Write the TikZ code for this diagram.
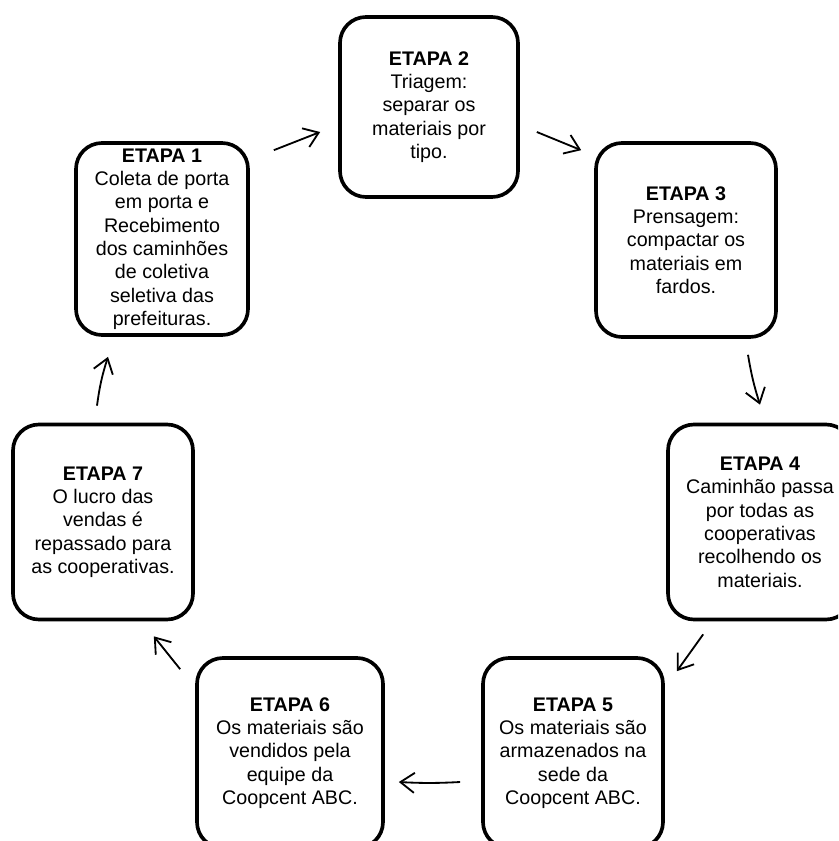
\documentclass[tikz,border=0pt]{standalone}
\usepackage{fontspec}
\setmainfont{Liberation Sans}
\usetikzlibrary{arrows.meta}

\begin{document}
\begin{tikzpicture}[
    etapa/.style={rectangle, draw, line width=2.6pt, rounded corners=0.65cm, align=center, inner sep=0pt, font=\fontsize{14}{16.6}\selectfont},
    arrow/.style={-{Straight Barb[length=0.35cm, width=0.5cm]}, line width=1.3pt}
]
\useasboundingbox (0,0) rectangle (20.95,-21.025);
\clip (0,0) rectangle (20.95,-21.025);

\node[etapa, minimum width=4.3cm, minimum height=4.8cm] (etapa1) at (4.05,-5.975) {\textbf{ETAPA 1}\\Coleta de porta\\em porta e\\Recebimento\\dos caminhões\\de coletiva\\seletiva das\\prefeituras.};
\node[etapa, minimum width=4.45cm, minimum height=4.5cm] (etapa2) at (10.725,-2.675) {\textbf{ETAPA 2}\\Triagem:\\separar os\\materiais por\\tipo.};
\node[etapa, minimum width=4.5cm, minimum height=4.85cm] (etapa3) at (17.15,-6.0) {\textbf{ETAPA 3}\\Prensagem:\\compactar os\\materiais em\\fardos.};
\node[etapa, minimum width=4.6cm, minimum height=4.875cm] (etapa4) at (19.0,-13.05) {\textbf{ETAPA 4}\\Caminhão passa\\por todas as\\cooperativas\\recolhendo os\\materiais.};
\node[etapa, minimum width=4.5cm, minimum height=4.75cm] (etapa5) at (14.325,-18.825) {\textbf{ETAPA 5}\\Os materiais são\\armazenados na\\sede da\\Coopcent ABC.};
\node[etapa, minimum width=4.65cm, minimum height=4.75cm] (etapa6) at (7.25,-18.825) {\textbf{ETAPA 6}\\Os materiais são\\vendidos pela\\equipe da\\Coopcent ABC.};
\node[etapa, minimum width=4.5cm, minimum height=4.875cm] (etapa7) at (2.575,-13.05) {\textbf{ETAPA 7}\\O lucro das\\vendas é\\repassado para\\as cooperativas.};

\draw[arrow] ([shift={(0.6,-0.225)}]etapa1.north east) -- ([shift={(-0.45,-0.625)}]etapa2.west);
\draw[arrow] ([shift={(0.425,-0.625)}]etapa2.east) -- ([shift={(-0.325,-0.225)}]etapa3.north west);
\draw[arrow] ([shift={(1.55,-0.4)}]etapa3.south) to[bend right=4] ([shift={(0,0.45)}]etapa4.north);
\draw[arrow] ([shift={(0.925,-0.325)}]etapa4.south west) -- ([shift={(0.3,-0.375)}]etapa5.north east);
\draw[arrow] ([shift={(-0.525,-0.725)}]etapa5.west) to[bend left=3] ([shift={(0.35,-0.725)}]etapa6.east);
\draw[arrow] ([shift={(-0.375,-0.325)}]etapa6.north west) -- ([shift={(-1.025,-0.375)}]etapa7.south east);
\draw[arrow] ([shift={(-0.15,0.425)}]etapa7.north) to[bend left=5] ([shift={(-1.35,-0.5)}]etapa1.south);

\end{tikzpicture}
\end{document}
